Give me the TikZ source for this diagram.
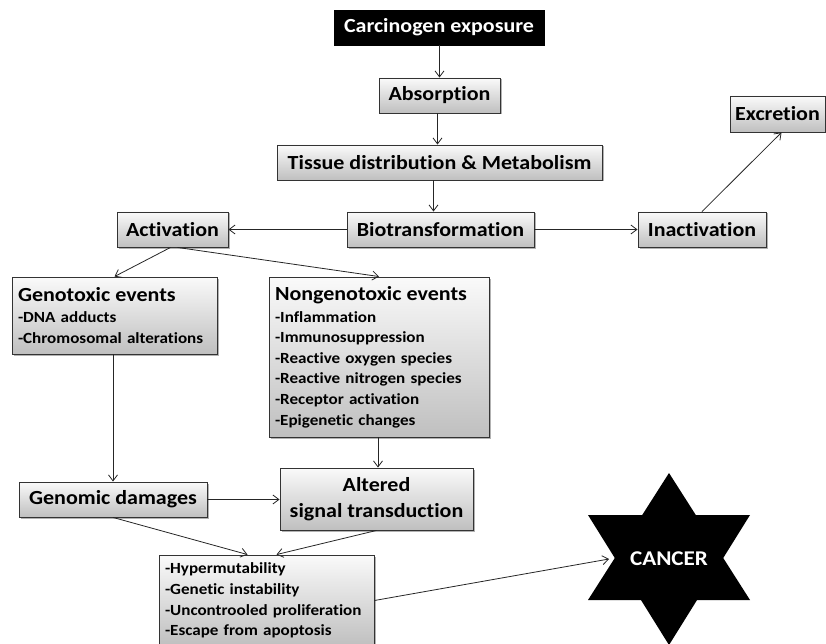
\documentclass[tikz,border=0pt]{standalone}
\usepackage{fontspec}
\setmainfont{Carlito}[FakeStretch=1.1,Ligatures=NoCommon]
\usetikzlibrary{arrows.meta,shadows}
\hyphenpenalty=10000
\begin{document}
\begin{tikzpicture}[x=1pt,y=-1pt,
  box/.style={draw=black!80, line width=0.9pt, top color=gray!4, bottom color=gray!50,
    inner sep=0pt, font=\bfseries\fontsize{20}{22}\selectfont,
    drop shadow={shadow xshift=1.5pt,shadow yshift=-1.5pt,opacity=0.3,fill=black}},
  blackbox/.style={draw=black, fill=black, text=white, inner sep=0pt,
    font=\bfseries\fontsize{20}{22}\selectfont},
  listbox/.style={box, align=left, inner xsep=6pt,
    font=\bfseries\fontsize{15.5}{20.6}\selectfont},
  arr/.style={-{Straight Barb[length=6pt,width=9pt]}, line width=0.8pt, draw=black!85},
  startext/.style={text=white, font=\bfseries\fontsize{21}{24}\selectfont},
]
\useasboundingbox (0,0) rectangle (826,644);
\clip (0,0) rectangle (826,644);

\node[blackbox, minimum width=210pt, minimum height=35pt] (expo) at (439,27.5) {Carcinogen exposure};
\node[box, minimum width=121pt, minimum height=35pt] (absorb) at (439.5,95.5) {Absorption};
\node[box, minimum width=325pt, minimum height=35pt] (tissue) at (439.5,162.5) {Tissue distribution \& Metabolism};
\node[box, minimum width=187pt, minimum height=35pt] (bio) at (440.5,229.5) {Biotransformation};
\node[box, minimum width=111pt, minimum height=35pt] (act) at (172.5,229.5) {Activation};
\node[box, minimum width=128pt, minimum height=35pt] (inact) at (702,229.5) {Inactivation};
\node[box, minimum width=95pt, minimum height=36pt] (excr) at (777.5,114) {Excretion};

\node[listbox, text width=193pt, minimum height=77pt] (geno) at (114.5,315.5)
  {{\fontsize{20}{22}\selectfont Genotoxic events}\\[1pt]
   -DNA adducts\\
   -Chromosomal alterations};
\node[listbox, text width=208pt, minimum height=160pt] (nongeno) at (379,357)
  {{\fontsize{20}{22}\selectfont Nongenotoxic events}\\[1pt]
   -Inflammation\\
   -Immunosuppression\\
   -Reactive oxygen species\\
   -Reactive nitrogen species\\
   -Receptor activation\\
   -Epigenetic changes};

\node[box, minimum width=188pt, minimum height=35pt] (genomic) at (113,499.5) {Genomic damages};
\node[box, align=center, minimum width=193pt, minimum height=62pt] (altered) at (376.5,499)
  {Altered\\[4pt]signal transduction};
\node[listbox, text width=203pt, minimum height=91pt] (hyper) at (266.5,600.5)
  {-Hypermutability\\
   -Genetic instability\\
   -Uncontrooled proliferation\\
   -Escape from apoptosis};

% star
\fill[black] (669,473) -- (588,600) -- (750,600) -- cycle;
\fill[black] (669,645) -- (588,515) -- (750,515) -- cycle;
\node[startext] (cancer) at (669,559) {CANCER};
\coordinate (notch) at (609,559);

% connectors
\draw[arr] (expo.south -| absorb.north) -- (absorb.north);
\draw[arr] ([xshift=-2pt]absorb.south) -- ([xshift=-2pt]absorb.south |- tissue.north);
\draw[arr] ([xshift=-6pt]tissue.south) -- ([xshift=-6pt]tissue.south |- bio.north);
\draw[arr] (bio.west) -- (act.east);
\draw[arr] (bio.east) -- (inact.west);
\draw[arr] (inact.north) -- ([xshift=4pt]excr.south);
\draw[arr] ([xshift=-2pt]act.south) -- (geno.north);
\draw[arr] ([xshift=5pt]act.south) -- (nongeno.north);
\draw[arr] (geno.south -| genomic.north) -- (genomic.north);
\draw[arr] ([xshift=-1pt]nongeno.south) -- ([xshift=-1pt]nongeno.south |- altered.north);
\draw[arr] (genomic.east) -- (genomic.east -| altered.west);
\draw[arr] (genomic.south) -- ([xshift=-19pt]hyper.north);
\draw[arr] (altered.south) -- ([xshift=10pt]hyper.north);
\draw[arr] (hyper.east) -- (notch);
\end{tikzpicture}
\end{document}
